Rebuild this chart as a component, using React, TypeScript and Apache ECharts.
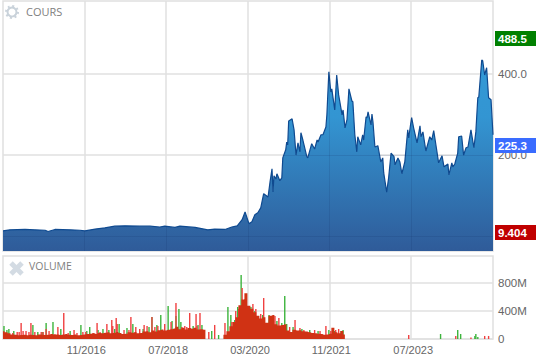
import React, { useEffect, useRef } from "react";
import * as echarts from "echarts";

const priceYears = [2015.17,2015.31,2015.62,2015.82,2016.03,2016.09,2016.23,2016.54,2016.74,2016.84,2017.05,2017.25,2017.45,2017.66,2017.96,2018.17,2018.37,2018.47,2018.68,2018.78,2019.09,2019.35,2019.49,2019.70,2019.84,2019.95,2020.05,2020.11,2020.19,2020.25,2020.31,2020.37,2020.43,2020.49,2020.58,2020.62,2020.66,2020.68,2020.70,2020.74,2020.76,2020.82,2020.86,2020.88,2020.94,2020.96,2020.98,2021.00,2021.07,2021.11,2021.15,2021.19,2021.23,2021.25,2021.29,2021.37,2021.39,2021.47,2021.53,2021.58,2021.60,2021.66,2021.70,2021.76,2021.78,2021.82,2021.86,2021.88,2021.94,2021.98,2022.02,2022.09,2022.11,2022.15,2022.19,2022.23,2022.29,2022.31,2022.35,2022.39,2022.41,2022.47,2022.51,2022.53,2022.58,2022.60,2022.62,2022.68,2022.70,2022.72,2022.76,2022.82,2022.88,2022.92,2022.94,2023.00,2023.04,2023.09,2023.15,2023.17,2023.23,2023.27,2023.31,2023.37,2023.43,2023.45,2023.49,2023.51,2023.55,2023.62,2023.68,2023.70,2023.74,2023.80,2023.88,2023.92,2023.96,2024.02,2024.06,2024.13,2024.17,2024.25,2024.27,2024.33,2024.35,2024.39,2024.45,2024.47,2024.53,2024.57,2024.62,2024.66,2024.72,2024.78,2024.82,2024.86,2024.88,2024.94,2024.96,2025.00,2025.04,2025.08,2025.13,2025.17];
const priceValues = [13.5,16,17,16,15,12,17,16,15,13.5,18,21,25,26,25,25,23,25,22,25,22,16,18,17,23,26,41,60,31,36,53,58,70,105,97,134,166,109,149,141,154,137,144,193,213,232,225,284,289,262,200,230,208,255,237,196,193,228,215,237,232,250,250,269,299,405,355,363,311,397,348,299,311,267,287,363,333,331,250,208,245,225,250,237,294,292,306,274,301,282,220,223,183,193,156,109,144,205,196,176,193,183,154,183,262,242,277,292,267,230,272,245,257,210,245,237,260,213,181,198,171,178,151,181,171,178,205,245,247,200,218,220,262,218,257,341,343,434,432,397,415,341,336,250];

const redYears = [2015.54,2015.74,2015.95,2016.05,2016.29,2016.41,2016.62,2016.80,2017.09,2017.29,2017.39,2017.48,2017.78,2018.05,2018.21,2018.70,2018.82,2018.98,2019.11,2019.19,2019.37,2019.49,2019.70,2019.84,2020.05,2020.17,2020.27,2020.49,2021.13,2021.31,2021.76,2022.02,2023.45,2024.41,2024.72,2025.00,2025.08,
  2015.37,2015.46,2015.50,2015.58,2015.64,2015.70,2015.82,2015.99,2016.11,2016.23,2016.50,2016.68,2016.86,2017.01,2017.15,2017.41,2017.50,2017.64,2017.74,2017.88,2017.96,2018.11,2018.27,2018.33,2018.47,2018.60,2018.88,2018.92,2019.13,2019.92,2019.98,2020.11,2020.33,2020.43,2020.72,2020.80,2021.02,2021.23,2021.53,2021.64,2021.86,2021.96];
const redVolumes = [227,227,99,142,170,369,128,99,227,213,269,298,312,199,312,510,170,369,355,369,99,199,227,241,723,440,496,581,269,128,184,142,57,43,21,43,43,
  85,99,99,113,113,99,99,99,113,71,85,85,99,85,99,184,213,128,128,170,142,184,170,184,213,241,184,170,184,397,425,567,425,355,326,298,170,156,128,113,113,128];
const greenYears = [2015.19,2015.29,2015.78,2016.05,2016.19,2016.35,2016.76,2016.94,2017.21,2017.54,2017.70,2017.82,2018.21,2018.39,2018.54,2018.70,2018.76,2018.86,2019.05,2019.23,2019.43,2019.57,2019.76,2019.90,2019.96,2020.03,2020.23,2020.39,2020.60,2020.86,2020.92,2020.96,2021.43,2022.11,2024.10,2024.45,2024.51,2024.80,2024.82,2024.86,
  2015.25,2015.39,2015.88,2015.97,2016.54,2016.88,2017.11,2017.33,2017.45,2018.03,2018.15,2018.31,2018.62,2018.80,2019.00,2019.15,2019.82,2020.09,2020.15,2020.31,2020.47,2020.66,2020.76,2021.09,2021.27,2021.60,2021.82,2021.94,2022.07];
const greenVolumes = [184,142,199,227,241,142,199,170,142,213,156,213,312,340,468,326,425,128,184,199,113,57,454,269,454,908,454,269,340,227,610,213,128,128,71,128,71,43,71,28,
  128,113,99,99,113,113,128,128,142,142,170,199,255,241,142,199,340,510,383,397,340,312,255,170,142,113,128,113,113];

const baseStartYear = 2015.17;
const baseStepYears = 0.0612;
const baseVolumes = [110,95,80,65,60,52,55,60,52,60,58,52,65,60,55,60,70,62,65,58,65,72,60,55,65,52,58,65,70,75,80,72,85,80,90,95,82,90,100,85,70,75,95,90,100,80,85,105,110,95,120,105,125,135,120,130,140,150,175,140,160,135,155,145,160,135,140,130,0,0,0,0,0,0,60,110,180,240,310,480,560,650,470,430,380,330,290,310,230,330,340,210,190,200,210,120,100,130,120,125,110,105,95,85,80,75,70,60,65,75,160,95,80,115,65];

const tickYears = [2016.83, 2018.5, 2020.17, 2021.83, 2023.5];
const tickLabels = ["11/2016", "07/2018", "03/2020", "11/2021", "07/2023"];
const priceHeights = [14, 25, 30, 405, 292];
const priceTicks = [0, 200, 400];
const volumeTicks = [0, 400, 800];
const tags = [
  { text: "488.5", color: "#008000", top: 31 },
  { text: "225.3", color: "#3a6cff", top: 138 },
  { text: "9.404", color: "#c00000", top: 225 },
];

const FONT = "'Liberation Sans', Arial, sans-serif";
const GRID = "#e0e0e0";

export default function App() {
  const ref = useRef<HTMLDivElement>(null);
  useEffect(() => {
    const chart = echarts.init(ref.current!, null, { renderer: "svg" });
    const xBase = (grid: number, show: boolean) => ({
      type: "value",
      gridIndex: grid,
      min: 2015.17,
      max: 2025.17,
      axisLine: { show: false },
      axisTick: { show: false, customValues: tickYears },
      splitLine: { show: true, lineStyle: { color: GRID, width: 1.5 } },
      axisLabel: {
        show: show,
        customValues: tickYears,
        color: "#666",
        fontFamily: FONT,
        fontSize: 11,
        margin: 5,
        padding: [0, 0, 0, 4],
        hideOverlap: false,
        formatter: (v: number) => {
          const i = tickYears.findIndex((t) => Math.abs(t - v) < 0.01);
          return i >= 0 ? tickLabels[i] : "";
        },
      },
    });
    const gridOverlay = [
      ...tickYears.map((y, i) => [{ coord: [y, -36] }, { coord: [y, priceHeights[i]] }]),
      [{ coord: [2015.17, 0] }, { coord: [2025.17, 0] }],
      [{ coord: [2020.88, 200] }, { coord: [2025.17, 200] }],
    ];
    const tagGraphics = tags.flatMap((t) => [
      { type: "rect", z: 100, shape: { x: 495, y: t.top, width: 41, height: 15 }, style: { fill: t.color } },
      {
        type: "text",
        z: 101,
        x: 498,
        y: t.top + 8,
        style: { text: t.text, fill: "#fff", font: `bold 11.5px ${FONT}`, textVerticalAlign: "middle" },
      },
    ]);
    chart.setOption({
      animation: false,
      grid: [
        { left: 3, top: 1, width: 490, height: 250, show: true, borderColor: GRID, borderWidth: 1.5, backgroundColor: "#fff" },
        { left: 3, top: 256, width: 490, height: 83, show: true, borderColor: GRID, borderWidth: 1.5, backgroundColor: "#fff" },
      ],
      xAxis: [xBase(0, false), xBase(1, true)],
      yAxis: [
        {
          type: "value",
          gridIndex: 0,
          position: "right",
          min: -36,
          max: 579,
          axisLine: { show: false },
          axisTick: { show: false, customValues: priceTicks },
          splitLine: { show: true, lineStyle: { color: GRID, width: 1.5 } },
          axisLabel: {
            customValues: [200, 400],
            color: "#666",
            fontFamily: FONT,
            fontSize: 11.5,
            margin: 5,
            padding: [0, 0, 4, 0],
            formatter: (v: number) => v.toFixed(1),
          },
        },
        {
          type: "value",
          gridIndex: 1,
          position: "right",
          min: 0,
          max: 1177,
          axisLine: { show: false },
          axisTick: { show: false, customValues: volumeTicks },
          splitLine: { show: true, lineStyle: { color: GRID, width: 1.5 } },
          axisLabel: {
            customValues: volumeTicks,
            color: "#666",
            fontFamily: FONT,
            fontSize: 11.5,
            margin: 5,
            padding: [0, 0, 4, 0],
            formatter: (v: number) => (v === 0 ? "0" : `${v}M`),
          },
        },
      ],
      series: [
        {
          type: "line",
          xAxisIndex: 0,
          yAxisIndex: 0,
          data: priceYears.map((y, i) => [y, priceValues[i]]),
          showSymbol: false,
          lineStyle: { color: "#0f4a90", width: 1.2 },
          areaStyle: {
            origin: "start",
            opacity: 1,
            color: new echarts.graphic.LinearGradient(0, 0, 0, 1, [
              { offset: 0, color: "#3399d6" },
              { offset: 0.3, color: "#3395d2" },
              { offset: 1, color: "#2f5b99" },
            ]),
          },
          markLine: {
            silent: true,
            symbol: "none",
            label: { show: false },
            lineStyle: { color: "rgba(15,40,90,0.13)", type: "solid", width: 1 },
            data: gridOverlay,
          },
        },
        {
          type: "bar",
          xAxisIndex: 1,
          yAxisIndex: 1,
          barWidth: 1.4,
          barGap: "-100%",
          data: greenYears.map((y, i) => [y, greenVolumes[i]]),
          itemStyle: { color: "#3cb43c" },
          z: 3,
        },
        {
          type: "bar",
          xAxisIndex: 1,
          yAxisIndex: 1,
          barWidth: 1.4,
          barGap: "-100%",
          data: redYears.map((y, i) => [y, redVolumes[i]]),
          itemStyle: { color: "#f04040" },
          z: 4,
        },
        {
          type: "line",
          xAxisIndex: 1,
          yAxisIndex: 1,
          step: "middle",
          data: baseVolumes.map((v, i) => [baseStartYear + i * baseStepYears, v]),
          showSymbol: false,
          lineStyle: { width: 0 },
          areaStyle: { origin: "start", opacity: 1, color: "#d03214" },
          z: 5,
        },
      ],
      graphic: [
        {
          type: "circle",
          z: 50,
          shape: { cx: 12, cy: 12, r: 4.5 },
          style: { fill: "none", stroke: "#c9d2da", lineWidth: 2 },
        },
        {
          type: "circle",
          z: 50,
          shape: { cx: 12, cy: 12, r: 6 },
          style: { fill: "none", stroke: "#c9d2da", lineWidth: 2, lineDash: [2, 2.7] },
        },
        { type: "text", z: 50, x: 26, y: 11, style: { text: "COURS", fill: "#808080", font: `11px 'Open Sans', sans-serif`, textVerticalAlign: "middle" } },
        { type: "line", z: 50, shape: { x1: 11, y1: 263, x2: 22, y2: 274 }, style: { stroke: "#d3dbe3", lineWidth: 5 } },
        { type: "line", z: 50, shape: { x1: 22, y1: 263, x2: 11, y2: 274 }, style: { stroke: "#d3dbe3", lineWidth: 5 } },
        { type: "text", z: 50, x: 29, y: 266, style: { text: "VOLUME", fill: "#808080", font: `10.5px 'Open Sans', sans-serif`, textVerticalAlign: "middle" } },
        ...tagGraphics,
      ],
    });
    return () => chart.dispose();
  }, []);
  return <div ref={ref} style={{ position: "absolute", left: 0, top: 0, width: 536, height: 364, background: "#fff" }} />;
}
